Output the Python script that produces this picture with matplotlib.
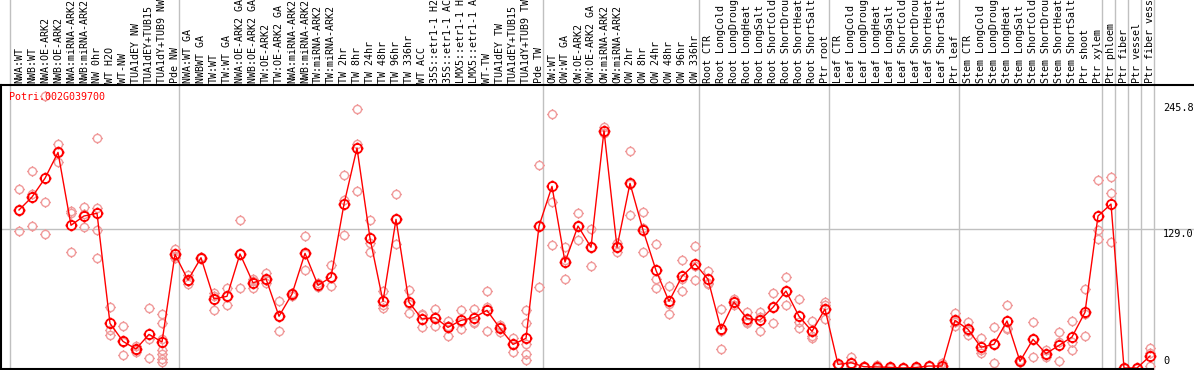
import matplotlib
matplotlib.use("Agg")
import matplotlib.pyplot as plt
from matplotlib.path import Path
import matplotlib.transforms as mtransforms

gene = "Potri.002G039700"

labels = [
    "NWA:WT", "NWB:WT", "NWA:OE-ARK2", "NWB:OE-ARK2", "NWA:miRNA-ARK2", "NWB:miRNA-ARK2",
    "NW 0hr", "WT H2O", "WT-NW", "TUA1dEY NW", "TUA1dEY+TUB15", "TUA1dY+TUB9 NW", "Pde NW",
    "NWA:WT GA", "NWBWT GA", "TW:WT", "TW:WT GA", "NWA:OE-ARK2 GA", "NWB:OE-ARK2 GA",
    "TW:OE-ARK2", "TW:OE-ARK2 GA", "NWA:miRNA-ARK2", "NWB:miRNA-ARK2", "TW:miRNA-ARK2",
    "TW:miRNA-ARK2", "TW 2hr", "TW 8hr", "TW 24hr", "TW 48hr", "TW 96hr", "TW 336hr",
    "WT ACC", "35S::etr1-1 H2O", "35S::etr1-1 ACC", "LMX5::etr1-1 H2O", "LMX5::etr1-1 ACC",
    "WT-TW", "TUA1dEY TW", "TUA1dEY+TUB15", "TUA1dY+TUB9 TW", "Pde TW",
    "OW:WT", "OW:WT GA", "OW:OE-ARK2", "OW:OE-ARK2 GA", "OW:miRNA-ARK2", "OW:miRNA-ARK2",
    "OW 2hr", "OW 8hr", "OW 24hr", "OW 48hr", "OW 96hr", "OW 336hr",
    "Root CTR", "Root LongCold", "Root LongDrought", "Root LongHeat", "Root LongSalt",
    "Root ShortCold", "Root ShortDrought", "Root ShortHeat", "Root ShortSalt", "Ptr root",
    "Leaf CTR", "Leaf LongCold", "Leaf LongDrought", "Leaf LongHeat", "Leaf LongSalt",
    "Leaf ShortCold", "Leaf ShortDrought", "Leaf ShortHeat", "Leaf ShortSalt", "Ptr leaf",
    "Stem CTR", "Stem LongCold", "Stem LongDrought", "Stem LongHeat", "Stem LongSalt",
    "Stem ShortCold", "Stem ShortDrought", "Stem ShortHeat", "Stem ShortSalt", "Ptr shoot",
    "Ptr xylem", "Ptr phloem", "Ptr fiber", "Ptr vessel", "Ptr fiber vessel",
]

# first sample index of each group (gray separators)
group_starts = [0, 13, 41, 53, 63, 73, 84, 85, 86, 87, 88]

means = [
    146.6, 158.6, 176, 200, 132.4, 141, 143.5, 41.4, 24.7, 17.6, 31.2, 24.1, 105.4,
    81.6, 102.3, 64, 66.5, 105.8, 79.1, 82.8, 48, 68.6, 106.4, 76.7, 84.3, 152.1, 204.1,
    120.3, 61.8, 137.9, 60.9, 45.5, 46.7, 37.7, 44.2, 46.7, 53.5, 36.8, 21.9, 27.5, 131.7,
    168.5, 98.3, 131.7, 112, 220.1, 112, 171.3, 128, 90.6, 61.8, 85, 96.8,
    82.3, 35.9, 61.2, 45.8, 44.5, 56.3, 71.4, 48, 34, 54.7,
    3.4, 4.9, 1.2, 1.0, 0.6, 0, 0.5, 1.8, 1.8, 44.2,
    35.9, 19.2, 22, 43.6, 6.2, 26.6, 13.3, 21, 28.8, 51.7, 141,
    152.1, 0, 0, 11.1,
]

reps = [
    [166, 127, 147], [183, 161, 132], [252, 154, 124], [208, 191, 200], [144, 108, 146],
    [149, 131, 143], [213, 148, 128, 102], [57, 35, 31], [39, 12, 24], [20, 15, 17],
    [56, 27, 9], [50, 42, 27, 17, 13, 8, 6], [110, 102, 104],
    [86, 78, 81], [103, 102, 102], [70, 54, 67], [74, 58, 67], [137, 74, 106], [83, 74, 81],
    [88, 79, 82], [62, 34, 48], [70, 67, 69], [122, 91, 106], [79, 75, 76], [96, 76, 84],
    [179, 156, 123], [240, 208, 164], [137, 116, 108], [71, 58, 56], [161, 115, 138],
    [72, 51, 59], [50, 38, 49], [55, 39, 47], [44, 30, 39], [54, 36, 43], [55, 42, 43],
    [71, 57, 34], [40, 33, 38], [28, 15, 22], [54, 42, 22, 13, 7], [188, 75, 132],
    [236, 154, 114], [112, 83, 100], [144, 119, 132], [129, 95, 112], [224, 218, 218],
    [116, 108, 112], [201, 142, 171], [145, 108, 130], [115, 83, 74], [76, 50, 59],
    [100, 71, 83], [113, 82, 95],
    [90, 79, 78], [55, 18, 34], [64, 61, 58], [52, 42, 43], [52, 34, 47], [70, 42, 57],
    [84, 58, 71], [64, 37, 43], [44, 28, 30], [61, 45, 58],
    [4, 3, 3], [10, 2, 2], [1, 1, 1.5], [2.8, 0.2, 0], [1, 0.5, 0.3], [0, 0, 0],
    [1, 0.5, 0], [2, 2, 1.5], [4.4, 1, 0], [51, 39, 43],
    [43, 31, 34], [27.5, 16.5, 13.6], [38, 5, 22], [58, 36, 37], [7, 6, 5.6],
    [43, 10, 27], [17, 10, 13], [33, 24, 6.5], [44, 24, 17], [73, 50, 30], [174, 128, 120],
    [177, 162, 117], [0, 0, 0], [0, 0, 0], [19, 14, 2],
]

ytick_vals = [0, 129.0, 245.8]

# circle with four little ticks, like the original bitmap markers
circ = Path.circle((0, 0), 1.0)
parts = [circ]
for dx, dy in [(1, 0), (-1, 0), (0, 1), (0, -1)]:
    parts.append(Path([(dx * 0.9, dy * 0.9), (dx * 1.3, dy * 1.3)], [Path.MOVETO, Path.LINETO]))
mk = Path.make_compound_path(*parts)

W, H = 1194, 370
fig = plt.figure(figsize=(W / 100, H / 100), dpi=100)

# plot area in pixels: x 1..1194, y 85..369 (from top)
ax = fig.add_axes([1 / W, 1 / H, (W - 1) / W, 284 / H])
px_per_unit = 1.078
x0 = (1 - 19) / 13
x1 = (W - 19) / 13
ax.set_xlim(x0, x1)
ax.set_ylim(-1 / px_per_unit, 283 / px_per_unit)

for s in ["right", "bottom"]:
    ax.spines[s].set_visible(False)
for s in ["left", "top"]:
    ax.spines[s].set_linewidth(1.5)
ax.set_xticks([])
ax.set_yticks([])

# bottom baseline only under the data columns
ax.plot([x0, group_starts[-1] - 0.7], [ax.get_ylim()[0]] * 2, color="black", lw=1.5,
        clip_on=False, zorder=5, solid_capstyle="butt")

# gray separators running up through the label area
for g in group_starts:
    ax.axvline(g - 0.7, ymin=0, ymax=369 / 284, color="#c0c0c0", lw=1.0, clip_on=False, zorder=1)
ax.axhline(129.0, color="#c0c0c0", lw=1.0, zorder=1)

xs = list(range(len(means)))
for i, r in enumerate(reps):
    ax.plot([i] * len(r), r, linestyle="none", marker=mk, markersize=7.6,
            markeredgecolor="#f09a9a", markerfacecolor="none", markeredgewidth=1.0,
            clip_on=False, zorder=2)
ax.plot(xs, means, color="#ff0000", lw=1.0, zorder=3)
ax.plot(xs, means, linestyle="none", marker=mk, markersize=8.6, markeredgecolor="#ff0000",
        markerfacecolor="none", markeredgewidth=1.3, clip_on=False, zorder=4)

mono = "DejaVu Sans Mono"
trans = mtransforms.blended_transform_factory(ax.transData, fig.transFigure)
for i, lab in enumerate(labels):
    ax.text(i, (H - 83) / H, lab, transform=trans, rotation=90, ha="center", va="bottom",
            family=mono, fontsize=7.2, color="black", clip_on=False)

ax.text(9 / W, (H - 97) / H, gene, transform=fig.transFigure, ha="left", va="center",
        family=mono, fontsize=7.2, color="#ff0000")

tx = 1163 / W
ax.text(tx, ytick_vals[2], "%.1f" % ytick_vals[2], transform=mtransforms.blended_transform_factory(fig.transFigure, ax.transData),
        ha="left", va="top", family=mono, fontsize=7.4)
ax.text(tx, ytick_vals[1], "%.1f" % ytick_vals[1], transform=mtransforms.blended_transform_factory(fig.transFigure, ax.transData),
        ha="left", va="top", family=mono, fontsize=7.4)
ax.text(tx, ytick_vals[0] + 2, "%d" % ytick_vals[0], transform=mtransforms.blended_transform_factory(fig.transFigure, ax.transData),
        ha="left", va="bottom", family=mono, fontsize=7.4)

fig.savefig("out.png", dpi=100)
